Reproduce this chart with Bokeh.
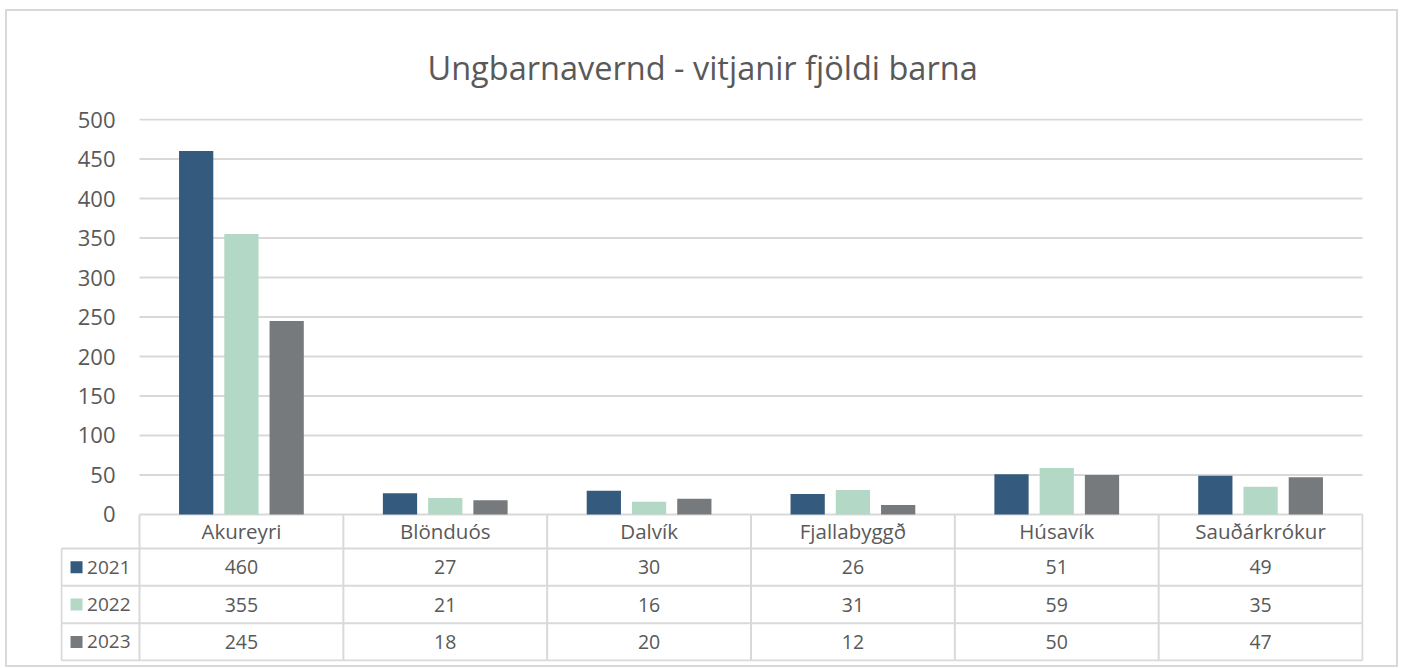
from bokeh.plotting import figure
from bokeh.models import Range1d, FixedTicker, ColumnDataSource, Title, Column
from bokeh.core.properties import value
from bokeh.embed import file_html
from bokeh.resources import INLINE

categories = ["Akureyri", "Blönduós", "Dalvík", "Fjallabyggð", "Húsavík", "Sauðárkrókur"]
years = ["2021", "2022", "2023"]
v2021 = [460, 27, 30, 26, 51, 49]
v2022 = [355, 21, 16, 31, 59, 35]
v2023 = [245, 18, 20, 12, 50, 47]
colors = ["#345A7E", "#B4D8C6", "#767A7D"]
y_ticks = [0, 50, 100, 150, 200, 250, 300, 350, 400, 450, 500]
title_text = "Ungbarnavernd - vitjanir fjöldi barna"

FONT = "Open Sans"
TXT = "#595959"
GRID = "#d9d9d9"

series = [v2021, v2022, v2023]
ncat = len(categories)
centers = [i + 0.5 for i in range(ncat)]

# layout constants (data-space sizes of the data table under the bars)
leg_w = 0.383          # legend column width, in category widths
head_h = 43.0          # header row height, in value units
row_h = 47.3           # table row height, in value units

p = figure(x_range=Range1d(-0.3876, ncat + 0.0049), y_range=Range1d(-186.08, 501.27),
           width=1389, height=654, output_backend="svg", toolbar_location=None,
           min_border_left=53, min_border_right=33, min_border_top=107, min_border_bottom=4)
p.title = Title(text=title_text, align="left", offset=367, standoff=58,
                text_font=FONT, text_font_size="32.5px", text_color=TXT, text_font_style="normal")
p.outline_line_color = None
p.xaxis.visible = False
p.grid.grid_line_color = None

ax = p.yaxis[0]
ax.ticker = FixedTicker(ticks=y_ticks)
ax.axis_line_color = None
ax.major_tick_line_color = None
ax.minor_tick_line_color = None
ax.major_tick_out = 0
ax.major_tick_in = 0
ax.major_label_text_font = FONT
ax.major_label_text_font_size = "22px"
ax.major_label_text_color = TXT
ax.major_label_standoff = -55

# horizontal gridlines over the category area only
p.segment(x0=[0] * len(y_ticks), x1=[ncat] * len(y_ticks), y0=y_ticks, y1=y_ticks,
          line_color=GRID, line_width=2)

# bars
offsets = [-0.222, 0.0, 0.222]
for k, yr in enumerate(years):
    src = ColumnDataSource(dict(x=[c + offsets[k] for c in centers], top=series[k]))
    p.vbar(x="x", top="top", bottom=0, width=0.168, source=src,
           fill_color=colors[k], line_color=None)

# data table
nrows = len(years)
row_bounds = [-head_h - r * row_h for r in range(nrows + 1)]   # top of each data row, plus bottom
tbl_bottom = row_bounds[-1]
hx0 = [-leg_w] * len(row_bounds)
hx1 = [ncat] * len(row_bounds)
p.segment(x0=hx0, x1=hx1, y0=row_bounds, y1=row_bounds, line_color=GRID, line_width=2)
vx = [-leg_w] + list(range(ncat + 1))
vtop = [row_bounds[0]] + [0] * (ncat + 1)
p.segment(x0=vx, x1=vx, y0=[tbl_bottom] * len(vx), y1=vtop, line_color=GRID, line_width=2)

p.text(x=centers, y=[-head_h / 2] * ncat, text=categories, text_align="center",
       text_baseline="middle", text_font=value(FONT), text_font_size="20.5px", text_color=TXT)
for k, yr in enumerate(years):
    yy = row_bounds[k] - row_h / 2
    p.text(x=centers, y=[yy] * ncat, text=[str(v) for v in series[k]], text_align="center",
           text_baseline="middle", text_font=value(FONT), text_font_size="19.5px", text_color=TXT)
    p.rect(x=[-leg_w + 0.074], y=[yy], width=12, height=12, width_units="screen",
           height_units="screen", fill_color=colors[k], line_color=None)
    p.text(x=[-leg_w + 0.126], y=[yy], text=[yr], text_align="left", text_baseline="middle",
           text_font=value(FONT), text_font_size="19px", text_color=TXT)

layout = Column(p, styles={"border": "2px solid #d9d9d9", "margin-left": "5px", "margin-top": "9px"})
open("out.html", "w").write(file_html(layout, INLINE))
